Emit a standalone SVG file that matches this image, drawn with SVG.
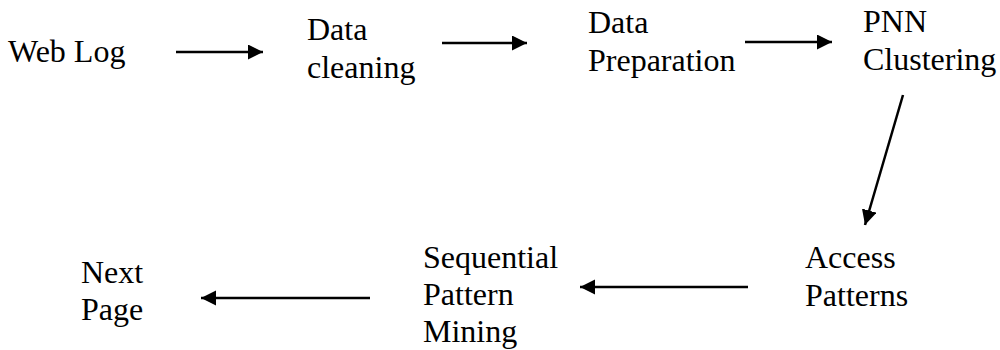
<svg xmlns="http://www.w3.org/2000/svg" width="1000" height="350" viewBox="0 0 1000 350">
  <style>
    .lbl { font-size: 32px; fill: #000; }
    .edge { stroke: #000; stroke-width: 2.5; fill: none; marker-end: url(#head); }
  </style>
  <defs>
    <marker id="head" markerUnits="userSpaceOnUse" markerWidth="16" markerHeight="16" refX="15" refY="7.5" orient="auto">
      <path d="M0,0 L15,7.5 L0,15 z" fill="#000"/>
    </marker>
  </defs>
  <rect width="1000" height="350" fill="#fff"/>

  <g class="lbl" font-family="Liberation Serif, Times New Roman, serif">
    <g id="web-log"><text x="8" y="62">Web Log</text></g>
    <g id="data-cleaning"><text x="307" y="40">Data</text><text x="307" y="78">cleaning</text></g>
    <g id="data-preparation"><text x="588" y="33">Data</text><text x="588" y="71">Preparation</text></g>
    <g id="pnn-clustering"><text x="863" y="32">PNN</text><text x="863" y="70">Clustering</text></g>
    <g id="access-patterns"><text x="805" y="268">Access</text><text x="805" y="306">Patterns</text></g>
    <g id="sequential-pattern-mining"><text x="423" y="268">Sequential</text><text x="423" y="305">Pattern</text><text x="423" y="342">Mining</text></g>
    <g id="next-page"><text x="81" y="283">Next</text><text x="81" y="320">Page</text></g>
  </g>

  <g id="connectors">
    <line class="edge" x1="176" y1="52" x2="263" y2="52"/>
    <line class="edge" x1="442" y1="43" x2="527" y2="43"/>
    <line class="edge" x1="745" y1="42" x2="832" y2="42"/>
    <line class="edge" x1="903" y1="95" x2="865" y2="225"/>
    <line class="edge" x1="748" y1="287" x2="580" y2="287"/>
    <line class="edge" x1="370" y1="298" x2="201" y2="298"/>
  </g>
</svg>
